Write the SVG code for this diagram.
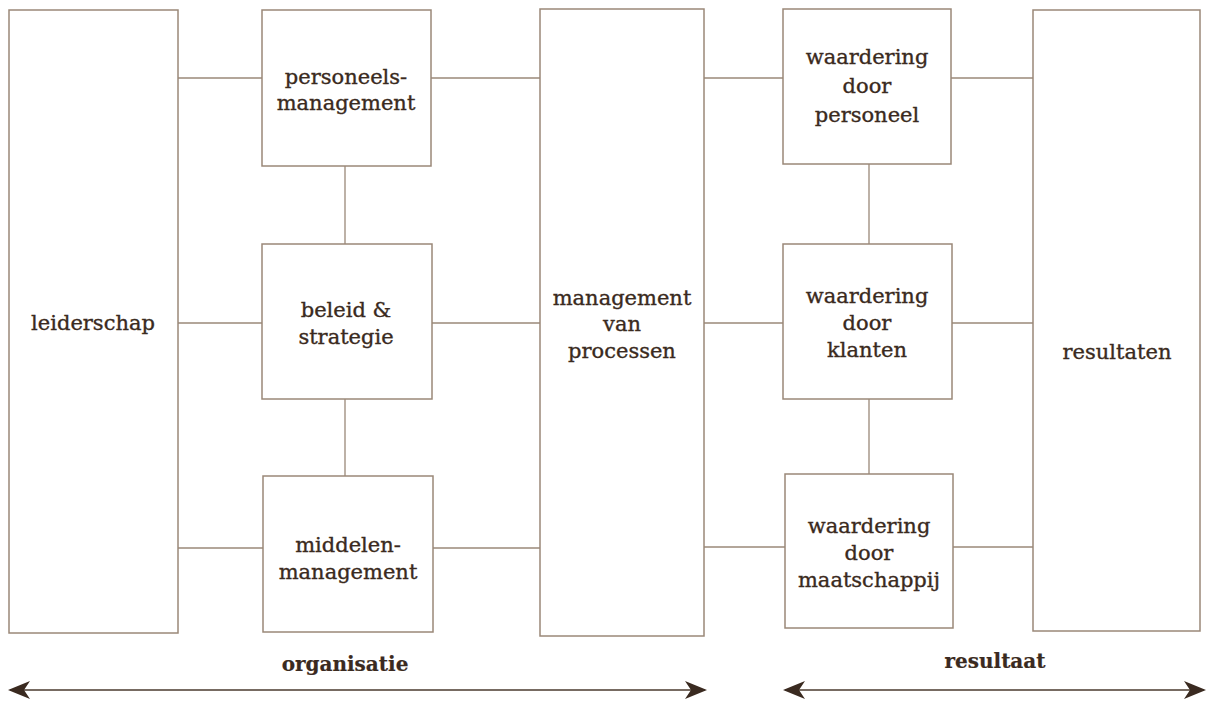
<svg xmlns="http://www.w3.org/2000/svg" width="1206" height="704" viewBox="0 0 1206 704">
<style>
.box{fill:#fff;stroke:#9a8878;stroke-width:1.5}
.ln{stroke:#9a8878;stroke-width:1.3;fill:none}
.ar{stroke:#4a3a2e;stroke-width:1.5;fill:none}
text{font-family:"DejaVu Serif","Liberation Serif",serif;font-size:21px;fill:#3a2a20;stroke:#3a2a20;stroke-width:0.35;text-anchor:middle}
.b{font-weight:bold;font-size:20px;stroke-width:0.2}
</style>
<defs>
<marker id="ah" viewBox="0 0 22 18" refX="20" refY="9" markerWidth="22" markerHeight="18" markerUnits="userSpaceOnUse" orient="auto-start-reverse">
<path d="M0,0 L22,9 L0,18 L6,9 Z" fill="#3a2a20"/>
</marker>
</defs>
<rect width="1206" height="704" fill="#fff"/>
<g id="connectors">
<line class="ln" x1="178" y1="78" x2="262" y2="78"/>
<line class="ln" x1="431" y1="78" x2="540" y2="78"/>
<line class="ln" x1="704" y1="78" x2="783" y2="78"/>
<line class="ln" x1="951" y1="78" x2="1033" y2="78"/>
<line class="ln" x1="178" y1="323" x2="262" y2="323"/>
<line class="ln" x1="432" y1="323" x2="540" y2="323"/>
<line class="ln" x1="704" y1="323" x2="783" y2="323"/>
<line class="ln" x1="952" y1="323" x2="1033" y2="323"/>
<line class="ln" x1="178" y1="548" x2="263" y2="548"/>
<line class="ln" x1="433" y1="548" x2="540" y2="548"/>
<line class="ln" x1="704" y1="547" x2="785" y2="547"/>
<line class="ln" x1="953" y1="547" x2="1033" y2="547"/>
<line class="ln" x1="345" y1="166" x2="345" y2="244"/>
<line class="ln" x1="345" y1="399" x2="345" y2="476"/>
<line class="ln" x1="869" y1="164" x2="869" y2="244"/>
<line class="ln" x1="869" y1="399" x2="869" y2="474"/>
<line class="ar" x1="10" y1="690" x2="705" y2="690" marker-start="url(#ah)" marker-end="url(#ah)"/>
<line class="ar" x1="785" y1="690" x2="1204" y2="690" marker-start="url(#ah)" marker-end="url(#ah)"/>
</g>
<g id="leiderschap"><rect class="box" x="9" y="10" width="169" height="623"/><text x="93" y="330">leiderschap</text></g>
<g id="personeelsmanagement"><rect class="box" x="262" y="10" width="169" height="156"/><text x="346" y="84">personeels-</text><text x="346" y="110">management</text></g>
<g id="beleid"><rect class="box" x="262" y="244" width="170" height="155"/><text x="346" y="317">beleid &amp;</text><text x="346" y="344">strategie</text></g>
<g id="middelenmanagement"><rect class="box" x="263" y="476" width="170" height="156"/><text x="348" y="552">middelen-</text><text x="348" y="579">management</text></g>
<g id="processen"><rect class="box" x="540" y="9" width="164" height="627"/><text x="622" y="305">management</text><text x="622" y="331">van</text><text x="622" y="358">processen</text></g>
<g id="personeel"><rect class="box" x="783" y="9" width="168" height="155"/><text x="867" y="64">waardering</text><text x="867" y="93">door</text><text x="867" y="122">personeel</text></g>
<g id="klanten"><rect class="box" x="783" y="244" width="169" height="155"/><text x="867" y="303">waardering</text><text x="867" y="330">door</text><text x="867" y="357">klanten</text></g>
<g id="maatschappij"><rect class="box" x="785" y="474" width="168" height="154"/><text x="869" y="533">waardering</text><text x="869" y="560">door</text><text x="869" y="587">maatschappij</text></g>
<g id="resultaten"><rect class="box" x="1033" y="10" width="167" height="621"/><text x="1117" y="359">resultaten</text></g>
<g id="labels"><text class="b" x="345" y="671">organisatie</text><text class="b" x="995" y="668">resultaat</text></g>
</svg>
